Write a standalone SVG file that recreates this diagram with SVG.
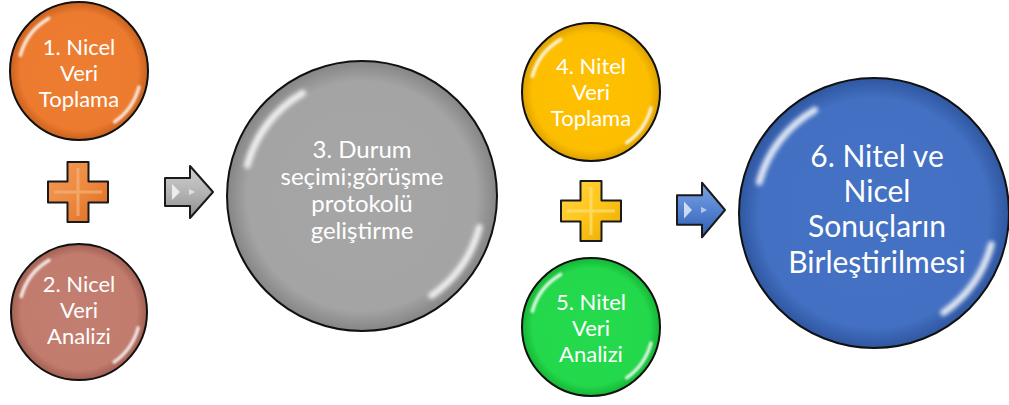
<svg xmlns="http://www.w3.org/2000/svg" width="1009" height="405" viewBox="0 0 1009 405">
  <style>
    .lbl { font-family: Lato, "Liberation Sans", sans-serif; fill: #ffffff; text-anchor: middle; }
    .s { font-size: 22px; }
    .m { font-size: 24px; }
    .l { font-size: 30px; }
    .rim { stroke: #111111; stroke-width: 2; }
    .shine { fill: none; stroke: #ffffff; stroke-width: 5; stroke-linecap: round; opacity: 0.85; filter: url(#soft); }
    .sym { stroke: #1a1a1a; stroke-width: 2; stroke-linejoin: round; }
  </style>
  <defs>
    <filter id="soft" x="-50%" y="-50%" width="200%" height="200%">
      <feGaussianBlur stdDeviation="1.5"/>
    </filter>
    <radialGradient id="gOrange"><stop offset="0" stop-color="#ED7D31"/><stop offset="0.85" stop-color="#EC7B2F"/><stop offset="1" stop-color="#C9611E"/></radialGradient>
    <radialGradient id="gRose"><stop offset="0" stop-color="#C27E70"/><stop offset="0.85" stop-color="#C17C6E"/><stop offset="1" stop-color="#A15F52"/></radialGradient>
    <radialGradient id="gGray"><stop offset="0" stop-color="#A6A6A6"/><stop offset="0.85" stop-color="#A4A4A4"/><stop offset="1" stop-color="#858585"/></radialGradient>
    <radialGradient id="gYellow"><stop offset="0" stop-color="#FFC000"/><stop offset="0.85" stop-color="#FDBE00"/><stop offset="1" stop-color="#DDA000"/></radialGradient>
    <radialGradient id="gGreen"><stop offset="0" stop-color="#25DB4D"/><stop offset="0.85" stop-color="#23D84B"/><stop offset="1" stop-color="#16B535"/></radialGradient>
    <radialGradient id="gBlue"><stop offset="0" stop-color="#4472C4"/><stop offset="0.85" stop-color="#4370C2"/><stop offset="1" stop-color="#2F56A0"/></radialGradient>
    <linearGradient id="pOrange" x1="0" y1="0" x2="1" y2="1"><stop offset="0" stop-color="#F29A56"/><stop offset="0.5" stop-color="#EE8A40"/><stop offset="1" stop-color="#D86A20"/></linearGradient>
    <linearGradient id="pYellow" x1="0" y1="0" x2="1" y2="1"><stop offset="0" stop-color="#FFD44A"/><stop offset="0.5" stop-color="#FFC61A"/><stop offset="1" stop-color="#E8A800"/></linearGradient>
    <linearGradient id="aGray" x1="0" y1="0" x2="0" y2="1"><stop offset="0" stop-color="#D0D0D0"/><stop offset="0.5" stop-color="#B4B4B4"/><stop offset="1" stop-color="#8E8E8E"/></linearGradient>
    <linearGradient id="aBlue" x1="0" y1="0" x2="0" y2="1"><stop offset="0" stop-color="#7FA3E0"/><stop offset="0.5" stop-color="#5482D2"/><stop offset="1" stop-color="#305EAE"/></linearGradient>
    <!-- glossy reflections on a radius-100 disc, scaled per node -->
    <g id="gloss">
      <path class="shine" d="M -85 -22.8 A 88 88 0 0 1 -44 -76.2"/>
      <path class="shine" d="M 86.9 23.3 A 90 90 0 0 1 51.6 73.7"/>
    </g>
    <path id="plusShape" d="M -10.5 -30 H 10.5 V -10.5 H 30 V 10.5 H 10.5 V 30 H -10.5 V 10.5 H -30 V -10.5 H -10.5 Z"/>
    <path id="arrowShape" d="M -24 -14 H 1 V -26 L 24 0 L 1 26 V 14 H -24 Z"/>
  </defs>

  <rect width="1009" height="405" fill="#ffffff"/>

  <g id="node1">
    <circle cx="79" cy="71" r="69" fill="url(#gOrange)" class="rim"/>
    <use href="#gloss" transform="translate(79 71) scale(0.69)"/>
    <text class="lbl s"><tspan x="79" y="55">1. Nicel</tspan><tspan x="79" y="81">Veri</tspan><tspan x="79" y="107">Toplama</tspan></text>
  </g>

  <g id="plus1">
    <use href="#plusShape" transform="translate(78 192)" fill="url(#pOrange)" class="sym"/>
    <path d="M 78 168 V 216 M 54 192 H 102" stroke="#F6B27C" stroke-width="3" opacity="0.7"/>
  </g>

  <g id="node2">
    <circle cx="79" cy="312" r="68" fill="url(#gRose)" class="rim"/>
    <use href="#gloss" transform="translate(79 312) scale(0.68)"/>
    <text class="lbl s"><tspan x="79" y="292">2. Nicel</tspan><tspan x="79" y="318">Veri</tspan><tspan x="79" y="344">Analizi</tspan></text>
  </g>

  <g id="node3">
    <circle cx="362" cy="196" r="135" fill="url(#gGray)" class="rim"/>
    <use href="#gloss" transform="translate(362 196) scale(1.35)"/>
    <text class="lbl m"><tspan x="362" y="158">3. Durum</tspan><tspan x="362" y="185">seçimi;görüşme</tspan><tspan x="362" y="212">protokolü</tspan><tspan x="362" y="239">geliştirme</tspan></text>
  </g>

  <g id="node4">
    <circle cx="591" cy="92" r="69" fill="url(#gYellow)" class="rim"/>
    <use href="#gloss" transform="translate(591 92) scale(0.69)"/>
    <text class="lbl s"><tspan x="591" y="74">4. Nitel</tspan><tspan x="591" y="100">Veri</tspan><tspan x="591" y="126">Toplama</tspan></text>
  </g>

  <g id="plus2">
    <use href="#plusShape" transform="translate(591 211)" fill="url(#pYellow)" class="sym"/>
    <path d="M 591 187 V 235 M 567 211 H 615" stroke="#FFE27A" stroke-width="3" opacity="0.7"/>
  </g>

  <g id="node5">
    <circle cx="591" cy="327" r="69" fill="url(#gGreen)" class="rim"/>
    <use href="#gloss" transform="translate(591 327) scale(0.69)"/>
    <text class="lbl s"><tspan x="591" y="310">5. Nitel</tspan><tspan x="591" y="336">Veri</tspan><tspan x="591" y="362">Analizi</tspan></text>
  </g>

  <g id="node6">
    <circle cx="874" cy="213" r="135" fill="url(#gBlue)" class="rim"/>
    <use href="#gloss" transform="translate(874 213) scale(1.35)"/>
    <text class="lbl l"><tspan x="877" y="167">6. Nitel ve</tspan><tspan x="877" y="202">Nicel</tspan><tspan x="877" y="237">Sonuçların</tspan><tspan x="877" y="273">Birleştirilmesi</tspan></text>
  </g>

  <g id="connectors">
    <g transform="translate(189 192)">
      <use href="#arrowShape" fill="url(#aGray)" class="sym"/>
      <path d="M -17 -8 L -9 0 L -17 8 Z" fill="#ffffff" opacity="0.75"/>
      <path d="M 0 -3 L 6 0 L 0 3 Z" fill="#ffffff" opacity="0.6"/>
    </g>
    <g transform="translate(701 210) scale(1 1.05)">
      <use href="#arrowShape" fill="url(#aBlue)" class="sym"/>
      <path d="M -17 -8 L -9 0 L -17 8 Z" fill="#ffffff" opacity="0.7"/>
      <path d="M 0 -3 L 6 0 L 0 3 Z" fill="#ffffff" opacity="0.55"/>
    </g>
  </g>
</svg>
